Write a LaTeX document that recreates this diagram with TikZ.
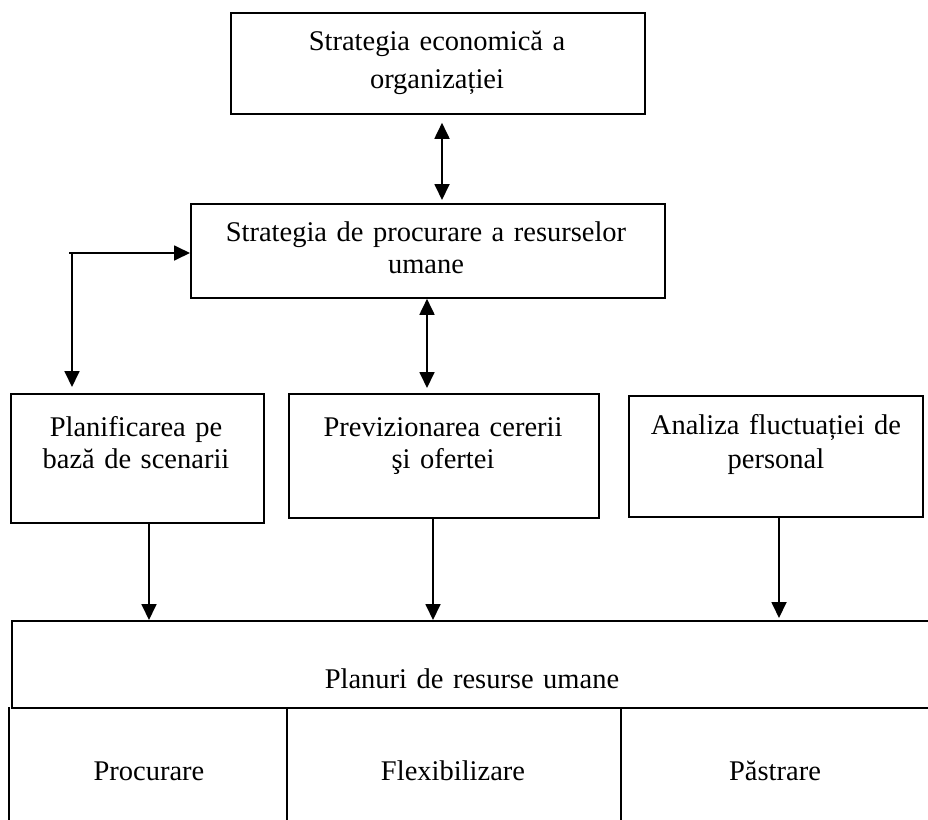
\documentclass[tikz,border=0pt]{standalone}
\usepackage{fontspec}
\setmainfont{Liberation Serif}
\usetikzlibrary{arrows.meta}
\begin{document}
\begin{tikzpicture}[x=1pt,y=-1pt,
  box/.style={draw, line width=1.8pt, inner sep=0pt, anchor=north west},
  txt/.style={font=\fontsize{28.5}{33}\selectfont, align=center, inner sep=0pt, anchor=base, text width=460pt},
  link/.style={line width=1.8pt, -{Triangle[width=15pt,length=16pt]}},
  both/.style={line width=1.8pt, {Triangle[width=15pt,length=16pt]}-{Triangle[width=15pt,length=16pt]}}]
\useasboundingbox (0,0) rectangle (928,819);

% boxes
\node[box, minimum width=414pt, minimum height=101pt] (eco) at (230,12) {};
\node[box, minimum width=474pt, minimum height=94pt] (strat) at (190,203) {};
\node[box, minimum width=253pt, minimum height=129pt] (plan) at (10,393) {};
\node[box, minimum width=310pt, minimum height=124pt] (prev) at (288,393) {};
\node[box, minimum width=294pt, minimum height=121pt] (anal) at (628,395) {};
\node[box, minimum width=940pt, minimum height=87pt] (plans) at (11,620) {};

% texts (positioned by the baseline of their first line)
\node[txt, font=\fontsize{28.5}{38}\selectfont] (ecoT) at (437,50) {Strategia economică a\\organizației};
\node[txt, font=\fontsize{28.5}{32}\selectfont] (stratT) at (426,241) {Strategia de procurare a resurselor\\umane};
\node[txt, font=\fontsize{28.5}{32}\selectfont] (planT) at (136,436) {Planificarea pe\\bază de scenarii};
\node[txt, font=\fontsize{28.5}{32}\selectfont] (prevT) at (443,436) {Previzionarea cererii\\şi ofertei};
\node[txt, font=\fontsize{28.5}{34}\selectfont] (analT) at (776,434) {Analiza fluctuației de\\personal};
\node[txt] (plansT) at (472,688) {Planuri de resurse umane};

% bottom row of the table
\coordinate (t0) at (9,707);
\coordinate (t1) at (287,707);
\coordinate (t2) at (621,707);
\draw[line width=1.8pt] (t0) -- ++(0,130);
\draw[line width=1.8pt] (t1) -- ++(0,130);
\draw[line width=1.8pt] (t2) -- ++(0,130);
\node[txt] (proc) at (149,780) {Procurare};
\node[txt] (flex) at (453,780) {Flexibilizare};
\node[txt] (past) at (775,780) {Păstrare};

% connectors
\coordinate (c1) at (442,0);
\draw[both] ([yshift=-8pt]c1 |- eco.south) -- ([yshift=3pt]c1 |- strat.north);
\coordinate (c2) at (427,0);
\draw[both] (c2 |- strat.south) -- ([yshift=5pt]c2 |- prev.north);

\coordinate (elbL) at (69,253);
\coordinate (elb) at (72,253);
\draw[link] (elbL) -- (strat.west |- elbL);
\draw[link] (elb) -- ([yshift=6pt]elb |- plan.north);

\coordinate (c3) at (149,0);
\coordinate (c4) at (433,0);
\coordinate (c5) at (779,0);
\draw[link] (c3 |- plan.south) -- (c3 |- plans.north);
\draw[link] (c4 |- prev.south) -- (c4 |- plans.north);
\draw[link] (c5 |- anal.south) -- ([yshift=2pt]c5 |- plans.north);
\end{tikzpicture}
\end{document}
